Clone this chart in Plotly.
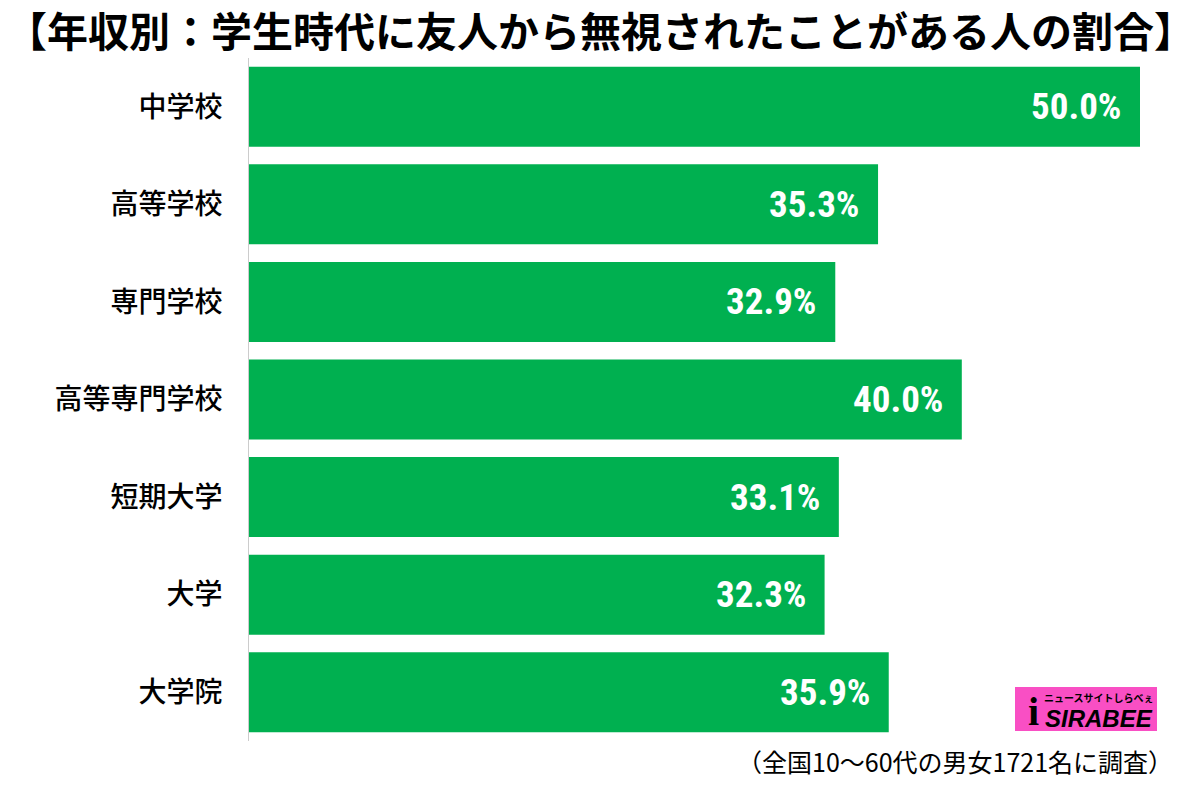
import plotly.graph_objects as go

categories = ["中学校", "高等学校", "専門学校", "高等専門学校", "短期大学", "大学", "大学院"]
values = [50.0, 35.3, 32.9, 40.0, 33.1, 32.3, 35.9]
labels = [f"{v:.1f}%" for v in values]

title = "【年収別：学生時代に友人から無視されたことがある人の割合】"
footnote = "（全国10〜60代の男女1721名に調査）"

W, H = 1200, 789
ML, MR, MT, MB = 249, 40, 58, 48
PW, PH = W - ML - MR, H - MT - MB
JP = "Noto Sans CJK JP"
NUM = "Liberation Sans Narrow, Arial Narrow, Roboto Condensed, Liberation Sans"

fig = go.Figure()
fig.add_trace(go.Bar(
    x=values, y=categories, orientation="h",
    marker=dict(color="#00B050", line=dict(width=0)),
    hoverinfo="skip",
))

for c, v, t in zip(categories, values, labels):
    fig.add_annotation(
        x=v, y=c, xref="x", yref="y", text=t, showarrow=False,
        xanchor="right", yanchor="middle", xshift=-17,
        font=dict(family=NUM, size=37, color="white", weight="bold"),
    )

def px_x(p):
    return (p - ML) / PW

def px_y(p):
    return 1 - (p - MT) / PH

# title
fig.add_annotation(
    x=px_x(600), y=px_y(29), xref="paper", yref="paper", text=title,
    showarrow=False, xanchor="center", yanchor="middle",
    font=dict(family=JP, size=41, color="black", weight="bold"),
)
# footnote
fig.add_annotation(
    x=px_x(1175), y=px_y(761), xref="paper", yref="paper", text=footnote,
    showarrow=False, xanchor="right", yanchor="middle",
    font=dict(family=JP, size=25, color="black"),
)
# logo
fig.add_shape(type="rect", xref="paper", yref="paper",
              x0=px_x(1015), x1=px_x(1157), y0=px_y(731), y1=px_y(687),
              fillcolor="#F94FC4", line=dict(width=0))
fig.add_annotation(
    x=px_x(1155), y=px_y(718), xref="paper", yref="paper", text="<i>SIRABEE</i>",
    showarrow=False, xanchor="right", yanchor="middle",
    font=dict(family="Liberation Sans", size=24, color="black", weight="bold"),
)
fig.add_annotation(
    x=px_x(1156), y=px_y(697), xref="paper", yref="paper", text="ニュースサイトしらべぇ",
    showarrow=False, xanchor="right", yanchor="middle",
    font=dict(family=JP, size=10, color="black", weight="bold"),
)
fig.add_annotation(
    x=px_x(1033), y=px_y(711), xref="paper", yref="paper", text="<b>i</b>",
    showarrow=False, xanchor="center", yanchor="middle",
    font=dict(family="Liberation Serif", size=40, color="black", weight="bold"),
)

fig.update_layout(
    width=W, height=H,
    margin=dict(l=ML, r=MR, t=MT, b=MB, pad=0),
    paper_bgcolor="white", plot_bgcolor="white",
    bargap=0.18, showlegend=False,
    xaxis=dict(range=[0, PW / 17.82], visible=False, fixedrange=True),
    yaxis=dict(
        autorange="reversed", showline=True, linecolor="#cccccc", linewidth=1,
        ticks="", showgrid=False, ticklabelstandoff=20,
        tickfont=dict(family=JP, size=28, color="black", weight=500),
        fixedrange=True,
    ),
)

fig.write_html("out.html")
